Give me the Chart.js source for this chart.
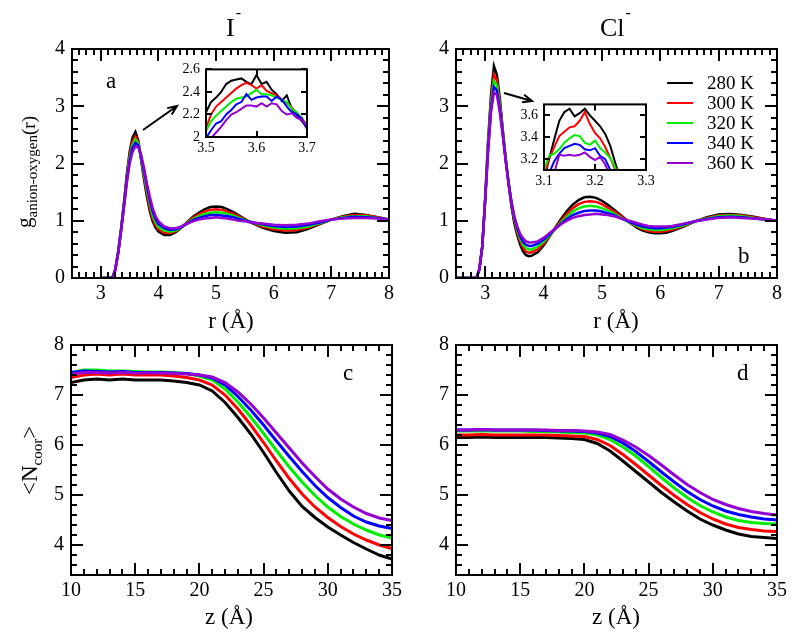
<!DOCTYPE html>
<html>
<head>
<meta charset="utf-8">
<script src="https://cdn.jsdelivr.net/npm/chart.js@4.4.1/dist/chart.umd.min.js"></script>
<style>
  body { margin: 0; background: #fff; font-family: "Liberation Serif", serif; }
  canvas { position: absolute; }
  #warm { position: absolute; left: -1000px; top: 0; font-family: "Liberation Serif"; }
</style>
</head>
<body>
<div id="warm">0123456789 r (Å) Cl I K abcd</div>
<canvas id="pa" width="400" height="340" style="left:0;top:0"></canvas>
<canvas id="pb" width="400" height="340" style="left:400px;top:0"></canvas>
<canvas id="pc" width="420" height="320" style="left:0;top:320px"></canvas>
<canvas id="pd" width="400" height="320" style="left:400px;top:320px"></canvas>
<canvas id="ia" width="175" height="105" style="left:150px;top:55px"></canvas>
<canvas id="ib" width="175" height="100" style="left:490px;top:90px"></canvas>
<script>
var temps = ['280 K', '300 K', '320 K', '340 K', '360 K'];
var colors = ['#000000', '#ff0000', '#00ee00', '#0000ff', '#9400d3'];

// panel a : g(r) anion-oxygen, I-
var rI = [3.0, 3.2, 3.25, 3.3, 3.35, 3.4, 3.45, 3.5, 3.55, 3.6, 3.65, 3.7, 3.75, 3.8, 3.85, 3.9, 3.95, 4.0, 4.1, 4.2, 4.3, 4.4, 4.5, 4.6, 4.7, 4.8, 4.9, 5.0, 5.1, 5.2, 5.3, 5.4, 5.5, 5.6, 5.8, 6.0, 6.2, 6.4, 6.6, 6.8, 7.0, 7.2, 7.4, 7.6, 7.8, 8.0];
var gI280 = [0, 0, 0.15, 0.45, 0.85, 1.3, 1.8, 2.2, 2.45, 2.55, 2.4, 2.05, 1.72, 1.42, 1.17, 0.99, 0.88, 0.81, 0.75, 0.75, 0.8, 0.88, 0.98, 1.07, 1.14, 1.2, 1.24, 1.25, 1.24, 1.2, 1.15, 1.09, 1.03, 0.97, 0.88, 0.82, 0.79, 0.8, 0.86, 0.94, 1.02, 1.08, 1.12, 1.1, 1.06, 1.02];
var gI300 = [0, 0, 0.15, 0.45, 0.84, 1.28, 1.76, 2.15, 2.38, 2.47, 2.38, 2.08, 1.77, 1.48, 1.23, 1.04, 0.92, 0.85, 0.79, 0.78, 0.82, 0.89, 0.97, 1.05, 1.11, 1.16, 1.19, 1.2, 1.19, 1.16, 1.12, 1.07, 1.02, 0.98, 0.9, 0.85, 0.83, 0.84, 0.88, 0.95, 1.02, 1.07, 1.1, 1.09, 1.06, 1.02];
var gI320 = [0, 0, 0.14, 0.44, 0.83, 1.26, 1.72, 2.1, 2.32, 2.42, 2.35, 2.1, 1.82, 1.54, 1.3, 1.1, 0.97, 0.89, 0.83, 0.81, 0.83, 0.89, 0.96, 1.03, 1.08, 1.12, 1.14, 1.15, 1.14, 1.12, 1.09, 1.05, 1.01, 0.98, 0.92, 0.88, 0.86, 0.87, 0.9, 0.96, 1.02, 1.06, 1.08, 1.08, 1.05, 1.02];
var gI340 = [0, 0, 0.14, 0.43, 0.82, 1.24, 1.69, 2.05, 2.27, 2.36, 2.32, 2.12, 1.87, 1.6, 1.36, 1.16, 1.03, 0.94, 0.87, 0.84, 0.85, 0.89, 0.95, 1.01, 1.05, 1.08, 1.1, 1.1, 1.09, 1.08, 1.06, 1.03, 1.0, 0.98, 0.94, 0.91, 0.89, 0.9, 0.93, 0.97, 1.02, 1.05, 1.07, 1.06, 1.05, 1.02];
var gI360 = [0, 0, 0.13, 0.42, 0.8, 1.22, 1.65, 2.0, 2.2, 2.3, 2.28, 2.15, 1.92, 1.65, 1.42, 1.22, 1.08, 0.99, 0.9, 0.87, 0.87, 0.9, 0.95, 0.99, 1.02, 1.04, 1.05, 1.06, 1.05, 1.04, 1.02, 1.0, 0.99, 0.97, 0.95, 0.93, 0.92, 0.93, 0.95, 0.99, 1.02, 1.04, 1.05, 1.05, 1.04, 1.02];

// panel b : g(r) anion-oxygen, Cl-
var rCl = [2.5, 2.85, 2.9, 2.95, 3.0, 3.05, 3.1, 3.15, 3.2, 3.25, 3.3, 3.35, 3.4, 3.45, 3.5, 3.55, 3.6, 3.65, 3.7, 3.75, 3.8, 3.9, 4.0, 4.1, 4.2, 4.3, 4.4, 4.5, 4.6, 4.7, 4.8, 4.9, 5.0, 5.1, 5.2, 5.3, 5.4, 5.5, 5.6, 5.7, 5.8, 5.9, 6.0, 6.1, 6.2, 6.4, 6.6, 6.8, 7.0, 7.2, 7.4, 7.6, 7.8, 8.0];
var gCl280 = [0, 0, 0.15, 0.55, 1.4, 2.4, 3.2, 3.7, 3.55, 3.15, 2.6, 2.1, 1.65, 1.25, 0.95, 0.75, 0.58, 0.46, 0.4, 0.38, 0.39, 0.45, 0.57, 0.72, 0.88, 1.03, 1.17, 1.28, 1.36, 1.41, 1.42, 1.4, 1.35, 1.28, 1.2, 1.12, 1.03, 0.95, 0.88, 0.83, 0.8, 0.78, 0.78, 0.79, 0.82, 0.9, 0.99, 1.06, 1.11, 1.12, 1.1, 1.07, 1.03, 1.0];
var gCl300 = [0, 0, 0.15, 0.55, 1.38, 2.35, 3.1, 3.55, 3.45, 3.08, 2.58, 2.1, 1.68, 1.3, 1.01, 0.8, 0.64, 0.53, 0.46, 0.44, 0.45, 0.5, 0.6, 0.73, 0.87, 1.0, 1.12, 1.22, 1.29, 1.33, 1.34, 1.33, 1.29, 1.23, 1.17, 1.1, 1.02, 0.95, 0.9, 0.85, 0.82, 0.81, 0.81, 0.82, 0.84, 0.91, 0.99, 1.05, 1.09, 1.1, 1.09, 1.06, 1.03, 1.0];
var gCl320 = [0, 0, 0.15, 0.55, 1.37, 2.3, 3.02, 3.44, 3.37, 3.02, 2.55, 2.09, 1.68, 1.32, 1.04, 0.84, 0.69, 0.58, 0.52, 0.5, 0.5, 0.55, 0.63, 0.74, 0.86, 0.97, 1.07, 1.16, 1.22, 1.25, 1.26, 1.25, 1.22, 1.18, 1.13, 1.07, 1.01, 0.96, 0.91, 0.87, 0.85, 0.84, 0.84, 0.85, 0.87, 0.92, 0.99, 1.04, 1.08, 1.09, 1.08, 1.05, 1.02, 1.0];
var gCl340 = [0, 0, 0.15, 0.55, 1.36, 2.25, 2.95, 3.34, 3.28, 2.96, 2.52, 2.07, 1.67, 1.33, 1.06, 0.87, 0.73, 0.63, 0.58, 0.56, 0.56, 0.6, 0.67, 0.76, 0.86, 0.95, 1.03, 1.1, 1.14, 1.17, 1.18, 1.18, 1.16, 1.13, 1.1, 1.05, 1.01, 0.97, 0.93, 0.9, 0.88, 0.87, 0.87, 0.88, 0.89, 0.94, 0.99, 1.03, 1.06, 1.07, 1.06, 1.04, 1.02, 1.0];
var gCl360 = [0, 0, 0.15, 0.55, 1.35, 2.2, 2.9, 3.24, 3.2, 2.9, 2.5, 2.05, 1.65, 1.32, 1.07, 0.9, 0.77, 0.69, 0.64, 0.62, 0.62, 0.64, 0.7, 0.78, 0.86, 0.94, 1.0, 1.05, 1.08, 1.1, 1.11, 1.12, 1.11, 1.1, 1.08, 1.05, 1.02, 0.99, 0.96, 0.93, 0.91, 0.9, 0.9, 0.9, 0.91, 0.95, 0.99, 1.02, 1.05, 1.06, 1.05, 1.04, 1.02, 1.0];

// panels c, d : <N_coor> vs z
var zs = [10, 11, 12, 13, 14, 15, 16, 17, 18, 19, 20, 21, 22, 23, 24, 25, 26, 27, 28, 29, 30, 31, 32, 33, 34, 35];
var nI280 = [7.25, 7.3, 7.32, 7.3, 7.32, 7.3, 7.3, 7.3, 7.28, 7.25, 7.2, 7.08, 6.85, 6.55, 6.22, 5.85, 5.45, 5.08, 4.77, 4.55, 4.36, 4.2, 4.05, 3.92, 3.8, 3.72];
var nI300 = [7.35, 7.4, 7.42, 7.4, 7.42, 7.4, 7.4, 7.4, 7.38, 7.35, 7.3, 7.2, 7.0, 6.72, 6.4, 6.05, 5.68, 5.33, 5.02, 4.76, 4.55, 4.37, 4.22, 4.1, 4.0, 3.93];
var nI320 = [7.45, 7.5, 7.5, 7.48, 7.48, 7.47, 7.46, 7.46, 7.45, 7.43, 7.38, 7.3, 7.12, 6.86, 6.56, 6.23, 5.89, 5.56, 5.26, 4.99, 4.76, 4.57, 4.42, 4.3, 4.2, 4.14];
var nI340 = [7.45, 7.48, 7.47, 7.46, 7.47, 7.45, 7.45, 7.45, 7.44, 7.43, 7.4, 7.34, 7.2, 6.97, 6.7, 6.4, 6.08, 5.77, 5.47, 5.19, 4.95, 4.75, 4.58, 4.46, 4.38, 4.33];
var nI360 = [7.42, 7.45, 7.45, 7.44, 7.45, 7.44, 7.44, 7.44, 7.43, 7.42, 7.4, 7.36, 7.25, 7.06, 6.82, 6.54, 6.24, 5.94, 5.64, 5.37, 5.12, 4.92, 4.76, 4.63, 4.54, 4.49];
var nCl280 = [6.15, 6.15, 6.16, 6.15, 6.15, 6.15, 6.15, 6.15, 6.14, 6.13, 6.11, 6.03, 5.88, 5.68, 5.47, 5.26, 5.05, 4.86, 4.68, 4.52, 4.4, 4.3, 4.22, 4.17, 4.15, 4.13];
var nCl300 = [6.2, 6.2, 6.21, 6.2, 6.2, 6.2, 6.2, 6.2, 6.19, 6.18, 6.17, 6.11, 5.99, 5.81, 5.61, 5.4, 5.19, 4.99, 4.81, 4.65, 4.52, 4.42, 4.35, 4.31, 4.28, 4.27];
var nCl320 = [6.28, 6.28, 6.28, 6.28, 6.28, 6.28, 6.27, 6.27, 6.26, 6.25, 6.24, 6.2, 6.11, 5.96, 5.78, 5.57, 5.35, 5.14, 4.95, 4.79, 4.66, 4.56, 4.49, 4.45, 4.43, 4.42];
var nCl340 = [6.3, 6.3, 6.31, 6.3, 6.3, 6.3, 6.3, 6.29, 6.28, 6.28, 6.27, 6.24, 6.17, 6.04, 5.87, 5.67, 5.46, 5.26, 5.07, 4.91, 4.78, 4.68, 4.61, 4.56, 4.52, 4.5];
var nCl360 = [6.3, 6.3, 6.31, 6.3, 6.3, 6.3, 6.3, 6.3, 6.29, 6.29, 6.28, 6.26, 6.21, 6.1, 5.96, 5.79, 5.6, 5.4, 5.21, 5.05, 4.91, 4.81, 4.73, 4.67, 4.63, 4.6];

// insets (first peak close-up)
var rInsI = [3.5, 3.51, 3.52, 3.53, 3.54, 3.55, 3.56, 3.57, 3.58, 3.59, 3.6, 3.61, 3.62, 3.63, 3.64, 3.65, 3.66, 3.67, 3.68, 3.69, 3.7];
var pI280 = [2.22, 2.31, 2.35, 2.4, 2.47, 2.5, 2.51, 2.52, 2.49, 2.47, 2.55, 2.47, 2.49, 2.42, 2.38, 2.32, 2.37, 2.25, 2.19, 2.14, 2.08];
var pI300 = [2.08, 2.2, 2.27, 2.31, 2.35, 2.39, 2.43, 2.46, 2.48, 2.46, 2.43, 2.46, 2.41, 2.39, 2.37, 2.33, 2.3, 2.26, 2.21, 2.17, 2.1];
var pI320 = [2.05, 2.14, 2.19, 2.23, 2.27, 2.31, 2.34, 2.35, 2.36, 2.39, 2.42, 2.38, 2.38, 2.37, 2.35, 2.33, 2.31, 2.25, 2.22, 2.16, 2.1];
var pI340 = [1.99, 2.06, 2.12, 2.14, 2.2, 2.24, 2.29, 2.31, 2.38, 2.33, 2.35, 2.36, 2.36, 2.32, 2.36, 2.33, 2.27, 2.22, 2.2, 2.16, 2.07];
var pI360 = [1.96, 1.99, 2.04, 2.09, 2.15, 2.2, 2.22, 2.25, 2.28, 2.28, 2.27, 2.3, 2.27, 2.3, 2.29, 2.23, 2.2, 2.21, 2.17, 2.15, 2.1];
var rInsCl = [3.1, 3.11, 3.12, 3.13, 3.14, 3.15, 3.16, 3.17, 3.18, 3.19, 3.2, 3.21, 3.22, 3.23, 3.24, 3.25, 3.26];
var pCl280 = [3.0, 3.2, 3.38, 3.55, 3.63, 3.66, 3.59, 3.62, 3.66, 3.6, 3.55, 3.5, 3.43, 3.32, 3.16, 3.02, 2.9];
var pCl300 = [3.03, 3.2, 3.31, 3.41, 3.45, 3.49, 3.5, 3.55, 3.63, 3.52, 3.44, 3.39, 3.31, 3.21, 3.1, 2.98, 2.9];
var pCl320 = [3.1, 3.23, 3.25, 3.29, 3.35, 3.39, 3.42, 3.41, 3.35, 3.33, 3.37, 3.3, 3.26, 3.21, 3.12, 3.02, 2.9];
var pCl340 = [2.95, 3.07, 3.18, 3.25, 3.3, 3.32, 3.34, 3.33, 3.29, 3.28, 3.3, 3.23, 3.2, 3.1, 3.0, 2.9, 2.85];
var pCl360 = [2.9, 2.98, 3.07, 3.24, 3.23, 3.24, 3.23, 3.24, 3.26, 3.22, 3.19, 3.22, 3.15, 3.05, 2.95, 2.9, 2.85];

var rTicks = [3, 4, 5, 6, 7, 8];
var gTicks = [0, 1, 2, 3, 4];
var zTicks = [10, 15, 20, 25, 30, 35];
var nTicks = [4, 5, 6, 7, 8];

var serif = "'Liberation Serif', serif";

function font(size) { return size + 'px ' + serif; }

function arrow(ctx, x0, y0, x1, y1) {
  var ang = Math.atan2(y1 - y0, x1 - x0), h = 10;
  ctx.save();
  ctx.strokeStyle = '#000';
  ctx.lineWidth = 2;
  ctx.beginPath();
  ctx.moveTo(x0, y0);
  ctx.lineTo(x1, y1);
  ctx.moveTo(x1 - h * Math.cos(ang - 0.4), y1 - h * Math.sin(ang - 0.4));
  ctx.lineTo(x1, y1);
  ctx.lineTo(x1 - h * Math.cos(ang + 0.4), y1 - h * Math.sin(ang + 0.4));
  ctx.stroke();
  ctx.restore();
}

function text(ctx, s, x, y, size, align) {
  ctx.font = font(size);
  ctx.fillStyle = '#000';
  ctx.textAlign = align || 'left';
  ctx.textBaseline = 'alphabetic';
  ctx.fillText(s, x, y);
}

// title with a superscript minus, e.g. I- / Cl-
function ionTitle(ctx, s, x, y) {
  text(ctx, s, x, y, 26);
  ctx.font = font(26);
  var w = ctx.measureText(s).width;
  text(ctx, '-', x + w + 1, y - 18, 16);
}

// rotated text made of pieces [string, size, baseline shift]
function vText(ctx, parts, bx, by) {
  ctx.save();
  ctx.translate(bx, by);
  ctx.rotate(-Math.PI / 2);
  var u = 0;
  parts.forEach(function (p) {
    ctx.font = font(p[1]);
    ctx.fillStyle = '#000';
    ctx.textAlign = 'left';
    ctx.textBaseline = 'alphabetic';
    ctx.fillText(p[0], u, p[2]);
    u += ctx.measureText(p[0]).width;
  });
  ctx.restore();
}

function addPanel(id, p) {
  var cv = document.getElementById(id);
  var W = cv.width, H = cv.height;
  var a = p.area;
  var datasets = p.series.map(function (ys, i) {
    return {
      label: temps[i],
      data: ys.map(function (y, j) { return { x: p.x[j], y: y }; }),
      borderColor: colors[i],
      backgroundColor: colors[i],
      borderWidth: p.lw,
      pointRadius: 0,
      tension: 0,
      order: p.series.length - 1 - i
    };
  });

  var frame = {
    id: 'frame',
    beforeDraw: function (chart) {
      if (!p.inset) return;
      var c = chart.chartArea, ctx = chart.ctx;
      ctx.save();
      ctx.fillStyle = '#fff';
      ctx.fillRect(c.left, c.top, c.right - c.left, c.bottom - c.top);
      ctx.restore();
    },
    afterDraw: function (chart) {
      var ctx = chart.ctx, c = chart.chartArea;
      var sx = chart.scales.x, sy = chart.scales.y;
      ctx.save();
      ctx.strokeStyle = '#000';
      ctx.lineWidth = 2;
      ctx.beginPath();
      function xt(v, len) {
        var px = Math.round(sx.getPixelForValue(v));
        ctx.moveTo(px, c.bottom); ctx.lineTo(px, c.bottom - len);
        ctx.moveTo(px, c.top); ctx.lineTo(px, c.top + len);
      }
      function yt(v, len) {
        var py = Math.round(sy.getPixelForValue(v));
        ctx.moveTo(c.left, py); ctx.lineTo(c.left + len, py);
        ctx.moveTo(c.right, py); ctx.lineTo(c.right - len, py);
      }
      var k, n;
      if (p.xMinor) {
        n = Math.round((p.xMax - p.xMin) / p.xMinor);
        for (k = 1; k < n; k++) xt(p.xMin + k * p.xMinor, p.minor);
      }
      if (p.yMinor) {
        n = Math.round((p.yMax - p.yMin) / p.yMinor);
        for (k = 1; k < n; k++) yt(p.yMin + k * p.yMinor, p.minor);
      }
      p.xTicks.forEach(function (v) { xt(v, p.major); });
      p.yTicks.forEach(function (v) { yt(v, p.major); });
      ctx.stroke();
      ctx.strokeRect(c.left, c.top, c.right - c.left, c.bottom - c.top);
      ctx.restore();
      if (p.extra) p.extra(ctx);
    }
  };

  new Chart(cv, {
    type: 'line',
    data: { datasets: datasets },
    options: {
      responsive: false,
      animation: false,
      layout: { padding: { left: 0, top: a[1], right: W - a[2], bottom: 0 } },
      plugins: { legend: { display: false }, tooltip: { enabled: false } },
      scales: {
        x: {
          type: 'linear', min: p.xMin, max: p.xMax,
          grid: { display: false, drawTicks: false },
          border: { display: false },
          afterFit: function (s) { s.height = H - a[3]; },
          afterBuildTicks: function (s) { s.ticks = p.xTicks.map(function (v) { return { value: v }; }); },
          ticks: {
            font: { family: serif, size: p.fs }, color: '#000', padding: p.xPad,
            maxRotation: 0, autoSkip: false,
            callback: function (v) { return String(v); }
          }
        },
        y: {
          type: 'linear', min: p.yMin, max: p.yMax,
          grid: { display: false, drawTicks: false },
          border: { display: false },
          afterFit: function (s) { s.width = a[0]; },
          afterBuildTicks: function (s) { s.ticks = p.yTicks.map(function (v) { return { value: v }; }); },
          ticks: {
            font: { family: serif, size: p.fs }, color: '#000', padding: p.yPad,
            autoSkip: false,
            callback: function (v) { return String(v); }
          }
        }
      }
    },
    plugins: [frame]
  });
}

function drawAll() {
  addPanel('pa', {
    area: [72, 49, 389, 278], x: rI, series: [gI280, gI300, gI320, gI340, gI360], lw: 2.5,
    xMin: 2.5, xMax: 8, xTicks: rTicks, xMinor: 0.125,
    yMin: 0, yMax: 4, yTicks: gTicks, yMinor: 0.2,
    fs: 20, xPad: 4, yPad: 7, major: 12, minor: 6,
    extra: function (ctx) {
      ionTitle(ctx, 'I', 226, 36);
      text(ctx, 'a', 106, 88, 23);
      arrow(ctx, 143, 130, 177, 106);
      text(ctx, 'r (\u00c5)', 231, 328, 23, 'center');
      vText(ctx, [['g', 21, 0], ['anion-oxygen', 15, 6], ['(r)', 19, 4]], 31, 228);
    }
  });

  addPanel('pb', {
    area: [56, 49, 377, 278], x: rCl, series: [gCl280, gCl300, gCl320, gCl340, gCl360], lw: 2.5,
    xMin: 2.5, xMax: 8, xTicks: rTicks, xMinor: 0.125,
    yMin: 0, yMax: 4, yTicks: gTicks, yMinor: 0.2,
    fs: 20, xPad: 4, yPad: 7, major: 12, minor: 6,
    extra: function (ctx) {
      ionTitle(ctx, 'Cl', 200, 36);
      text(ctx, 'b', 338, 263, 23);
      arrow(ctx, 104, 93, 132, 101);
      text(ctx, 'r (\u00c5)', 216, 328, 23, 'center');
      var rows = [83, 103, 123, 143, 163];
      temps.forEach(function (t, i) {
        ctx.save();
        ctx.strokeStyle = colors[i];
        ctx.lineWidth = 2;
        ctx.beginPath();
        ctx.moveTo(267, rows[i]);
        ctx.lineTo(293, rows[i]);
        ctx.stroke();
        ctx.restore();
        ctx.font = font(19);
        ctx.fillStyle = '#000';
        ctx.textAlign = 'left';
        ctx.textBaseline = 'middle';
        ctx.fillText(t, 307, rows[i] + 1);
      });
    }
  });

  addPanel('pc', {
    area: [71, 25, 392, 255], x: zs, series: [nI280, nI300, nI320, nI340, nI360], lw: 3,
    xMin: 10, xMax: 35, xTicks: zTicks, xMinor: 1,
    yMin: 3.4, yMax: 8, yTicks: nTicks, yMinor: 0.2,
    fs: 20, xPad: 4, yPad: 7, major: 12, minor: 6,
    extra: function (ctx) {
      text(ctx, 'c', 343, 60, 23);
      text(ctx, 'z (\u00c5)', 229, 304, 23, 'center');
      vText(ctx, [['<N', 23, 0], ['coor', 15, 5], ['>', 23, 0]], 37, 175);
    }
  });

  addPanel('pd', {
    area: [56, 25, 377, 255], x: zs, series: [nCl280, nCl300, nCl320, nCl340, nCl360], lw: 3,
    xMin: 10, xMax: 35, xTicks: zTicks, xMinor: 1,
    yMin: 3.4, yMax: 8, yTicks: nTicks, yMinor: 0.2,
    fs: 20, xPad: 4, yPad: 7, major: 12, minor: 6,
    extra: function (ctx) {
      text(ctx, 'd', 337, 60, 23);
      text(ctx, 'z (\u00c5)', 216, 304, 23, 'center');
    }
  });

  addPanel('ia', {
    inset: true,
    area: [56, 14, 157, 82], x: rInsI, series: [pI280, pI300, pI320, pI340, pI360], lw: 2,
    xMin: 3.5, xMax: 3.7, xTicks: [3.5, 3.6, 3.7],
    yMin: 2, yMax: 2.6, yTicks: [2, 2.2, 2.4, 2.6],
    fs: 14, xPad: 3, yPad: 6, major: 6, minor: 0
  });

  addPanel('ib', {
    inset: true,
    area: [54, 13, 156, 80], x: rInsCl, series: [pCl280, pCl300, pCl320, pCl340, pCl360], lw: 2,
    xMin: 3.1, xMax: 3.3, xTicks: [3.1, 3.2, 3.3],
    yMin: 3.1, yMax: 3.7, yTicks: [3.2, 3.4, 3.6],
    fs: 14, xPad: 3, yPad: 6, major: 6, minor: 0
  });
}

if (document.fonts && document.fonts.load) {
  Promise.all([
    document.fonts.load('20px "Liberation Serif"'),
    document.fonts.load('14px "Liberation Serif"')
  ]).then(drawAll, drawAll);
} else {
  drawAll();
}
</script>
</body>
</html>
